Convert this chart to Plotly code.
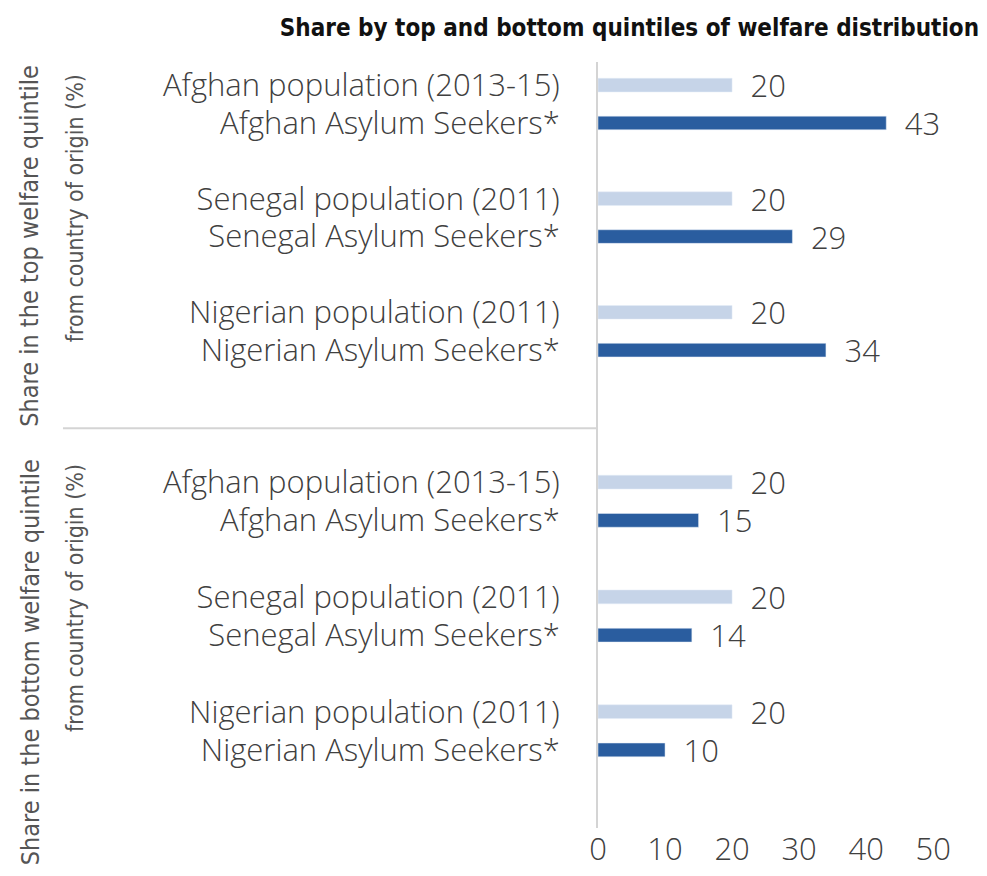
import plotly.graph_objects as go
from plotly.subplots import make_subplots

title_text = "Share by top and bottom quintiles of welfare distribution"

pop_labels = ["Afghan population (2013-15)", "Senegal population (2011)", "Nigerian population (2011)"]
seek_labels = ["Afghan Asylum Seekers*", "Senegal Asylum Seekers*", "Nigerian Asylum Seekers*"]

top_pop = [20, 20, 20]
top_seek = [43, 29, 34]
bottom_pop = [20, 20, 20]
bottom_seek = [15, 14, 10]

top_title = ["Share in the top welfare quintile", "from country of origin (%)"]
bottom_title = ["Share in the bottom welfare quintile", "from country of origin (%)"]

x_ticks = [0, 10, 20, 30, 40, 50]

LIGHT = "#c6d4e8"
DARK = "#2a5d9f"
TXT = "#404040"
LINE = "#d4d4d4"
FONT = "Open Sans"
COND = "Noto Sans ExtraCondensed, Noto Sans Condensed, DejaVu Sans Condensed, Liberation Sans Narrow, Roboto"

# category order with blank spacers between country pairs
order = []
for i, (p, s) in enumerate(zip(pop_labels, seek_labels)):
    if i > 0:
        order.append(" " * i)
    order += [p, s]

sep = 0.522
fig = make_subplots(rows=2, cols=1, shared_xaxes=True, vertical_spacing=0,
                    row_heights=[1 - sep, sep])

for row, pops, seeks in [(1, top_pop, top_seek), (2, bottom_pop, bottom_seek)]:
    for xs, ys, col in [(pops, pop_labels, LIGHT), (seeks, seek_labels, DARK)]:
        fig.add_trace(go.Bar(y=ys, x=xs, orientation="h", marker_color=col,
                             width=0.36, text=xs, texttemplate="\u2002%{x}",
                             textposition="outside", cliponaxis=False,
                             constraintext="none",
                             textfont=dict(size=31, color=TXT, family=FONT, weight=300),
                             showlegend=False), row=row, col=1)

fig.update_layout(
    barmode="overlay",
    width=971, height=860,
    margin=dict(l=590, r=19, t=54, b=40, autoexpand=False),
    plot_bgcolor="white", paper_bgcolor="white",
    title=dict(text="<b>" + title_text + "</b>", x=1, xanchor="right", xref="container",
               y=0.977, yanchor="middle",
               font=dict(family=COND, size=24, color="#111111")),
)

for r in (1, 2):
    fig.update_xaxes(range=[0, 54], tickvals=x_ticks, showgrid=False, zeroline=False,
                     showline=False, ticks="", automargin=False, row=r, col=1)
fig.update_xaxes(tickfont=dict(family=FONT, size=31, color=TXT, weight=300), row=2, col=1)

for r, rng in [(1, [9.06, -0.61]), (2, [9.04, -1.41])]:
    fig.update_yaxes(type="category", categoryorder="array", categoryarray=order,
                     tickmode="array", tickvals=order, ticktext=order,
                     range=rng, showgrid=False, zeroline=False, automargin=False,
                     showline=True, linecolor=LINE, linewidth=2, ticks="",
                     ticklabelstandoff=30,
                     tickfont=dict(family=FONT, size=31, color=TXT, weight=300), row=r, col=1)

# separator line between the two panels
fig.add_shape(type="line", xref="paper", yref="paper", x0=-1.478, x1=0, y0=sep, y1=sep,
              line=dict(color=LINE, width=2))

for txt, xp, yp, fs in [(top_title[0], -1.569, 0.999, 25), (top_title[1], -1.444, 0.987, 23),
                        (bottom_title[0], -1.569, 0.484, 25), (bottom_title[1], -1.444, 0.478, 23)]:
    fig.add_annotation(text=txt, xref="paper", yref="paper", x=xp, y=yp,
                       xanchor="center", yanchor="top", textangle=-90,
                       showarrow=False,
                       font=dict(family=COND, size=fs, color="#555555", weight=300))

fig.write_html("out.html")
